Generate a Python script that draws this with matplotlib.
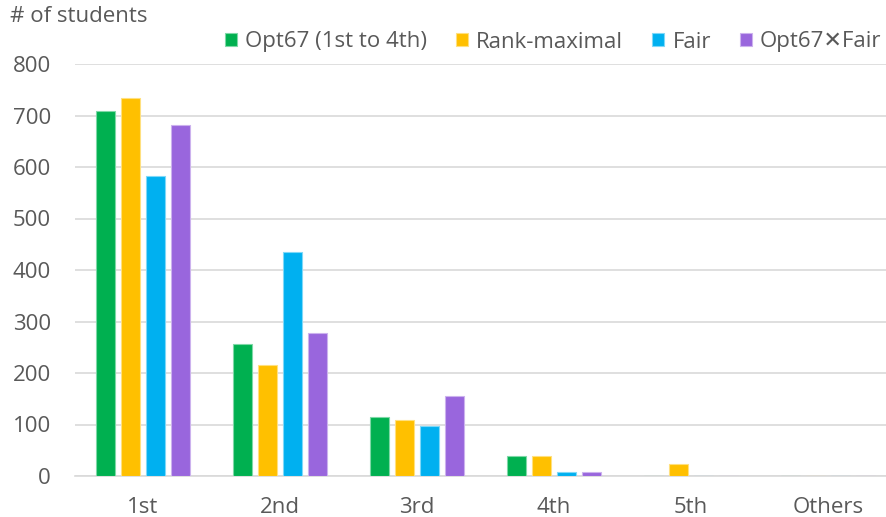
import matplotlib

matplotlib.use("Agg")
import matplotlib.pyplot as plt
import numpy as np

categories = ["1st", "2nd", "3rd", "4th", "5th", "Others"]
series_names = ["Opt67 (1st to 4th)", "Rank-maximal", "Fair", "Opt67\u2715Fair"]
opt67 = [709, 257, 115, 39, 0, 0]
rank_maximal = [734, 216, 109, 39, 23, 0]
fair = [583, 434, 97, 8, 0, 0]
opt67_fair = [681, 278, 156, 8, 0, 0]

colors = ["#00B050", "#FFC000", "#00B0F0", "#9966DD"]
edges = ["#7FD8A7", "#FFE07F", "#7FD8F8", "#CCB2EE"]
text_color = "#595959"
grid_color = "#D9D9D9"

plt.rcParams["font.family"] = ["Open Sans", "Noto Sans CJK JP", "DejaVu Sans"]

fig = plt.figure(figsize=(8.86, 5.17), dpi=100)
ax = fig.add_axes([74.5 / 886, 41 / 517, 822 / 886, 412 / 517])

x = np.arange(len(categories))
step = 0.182
width = 0.14
all_series = [opt67, rank_maximal, fair, opt67_fair]
handles = []
for i, vals in enumerate(all_series):
    offset = (i - 1.5) * step
    b = ax.bar(x + offset, vals, width, color=colors[i], edgecolor=edges[i],
               linewidth=0.8, label=series_names[i], zorder=3)
    handles.append(b)

ax.set_xlim(-0.5, len(categories) - 0.5)
ax.set_ylim(0, 800)
ax.set_yticks(range(0, 801, 100))
ax.set_xticks(x)
ax.set_xticklabels(categories)
ax.grid(axis="y", color=grid_color, linewidth=1.2, zorder=0)
for s in ["left", "right", "top"]:
    ax.spines[s].set_visible(False)
ax.spines["bottom"].set_color(grid_color)
ax.spines["bottom"].set_linewidth(1.2)
ax.tick_params(axis="both", length=0, labelsize=16, colors=text_color)
ax.tick_params(axis="y", pad=17)
ax.tick_params(axis="x", pad=15)

fig.text(10 / 886, 1 - 17 / 517, "# of students", fontsize=16, color=text_color,
         va="center", ha="left")

leg = fig.legend(handles=handles, labels=series_names, ncol=4, frameon=False,
                 loc="center left", bbox_to_anchor=(225 / 886, 1 - 42 / 517),
                 fontsize=16, handlelength=0.55, handleheight=0.55,
                 handletextpad=0.36, columnspacing=1.3, labelcolor=text_color,
                 borderaxespad=0, borderpad=0)

fig.savefig("out.png", dpi=100)
